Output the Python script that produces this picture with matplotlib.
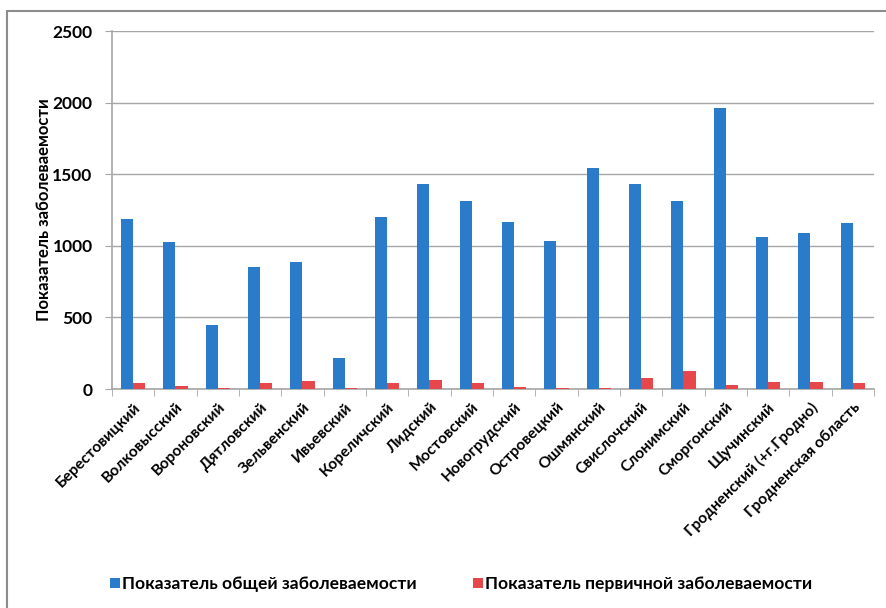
import numpy as np
import matplotlib.pyplot as plt
from matplotlib.patches import Rectangle

plt.rcParams['font.family'] = ['Lato', 'DejaVu Sans']

# data
districts = ["Берестовицкий", "Волковысский", "Вороновский", "Дятловский",
             "Зельвенский", "Ивьевский", "Кореличский", "Лидский",
             "Мостовский", "Новогрудский", "Островецкий", "Ошмянский",
             "Свислочский", "Слонимский", "Сморгонский", "Щучинский",
             "Гродненский (+г.Гродно)", "Гродненская область"]
total = [1190, 1030, 445, 850, 890, 215, 1200, 1430, 1315, 1165,
         1035, 1545, 1430, 1315, 1960, 1060, 1090, 1160]
primary = [40, 20, 10, 40, 55, 5, 40, 60, 40, 12,
           10, 10, 80, 125, 25, 50, 50, 45]

blue = "#2b7bcb"
red = "#e6474b"
grey = "#a6a6a6"

fig = plt.figure(figsize=(8.87, 6.08), dpi=100)
ax = fig.add_axes([112 / 887, 1 - 389 / 608, (874 - 112) / 887, (389 - 31) / 608])

# outer chart frame
fig.patches.append(Rectangle((7 / 887, -0.01), 1.0, 1 - 11 / 608 + 0.01,
                             transform=fig.transFigure, fill=False,
                             edgecolor="#8c8c8c", linewidth=1.5))

x = np.arange(len(districts))
w = 0.29
ax.bar(x - w / 2, total, w, color=blue, label="Показатель общей заболеваемости", zorder=3)
ax.bar(x + w / 2, primary, w, color=red, label="Показатель первичной заболеваемости", zorder=3)

ax.set_xlim(-0.5, len(districts) - 0.5)
ax.set_ylim(0, 2500)
ax.set_yticks(range(0, 2501, 500))
ax.yaxis.grid(True, color=grey, linewidth=1)
ax.set_axisbelow(True)

for s in ["top", "right"]:
    ax.spines[s].set_visible(False)
ax.spines["left"].set_color(grey)
ax.spines["bottom"].set_color(grey)
ax.spines["left"].set_linewidth(1.2)
ax.spines["bottom"].set_linewidth(1.2)

# category labels, ticks between categories
ax.set_xticks(x)
ax.set_xticklabels(districts, rotation=45, ha="right", rotation_mode="anchor",
                   fontsize=11.2, fontweight="bold")
ax.tick_params(axis="x", length=0, pad=8)
ax.set_xticks(np.arange(-0.5, len(districts), 1), minor=True)
ax.tick_params(axis="x", which="minor", length=5, color=grey, direction="out")
ax.tick_params(axis="y", length=5, color=grey, labelsize=12.5, pad=9)
for t in ax.get_yticklabels():
    t.set_fontweight("bold")

ax.set_ylabel("Показатель заболеваемости", fontsize=12, fontweight="bold", labelpad=0)

fig.legend(loc="center", bbox_to_anchor=(0.52, 1 - 584 / 608), ncol=2, frameon=False,
           prop={"weight": "bold", "size": 12.6}, handlelength=0.55,
           handleheight=0.55, handletextpad=0.15, columnspacing=3.2)

fig.savefig("out.png", dpi=100)
